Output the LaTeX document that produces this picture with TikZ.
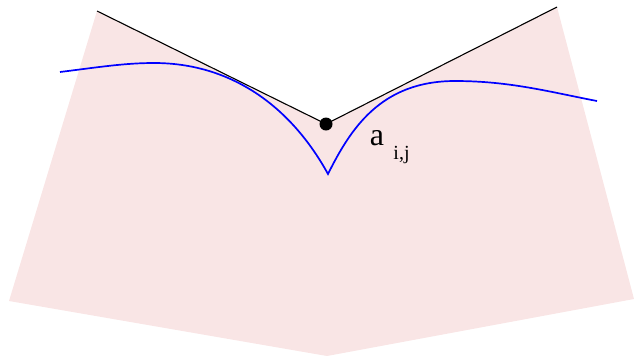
\documentclass[tikz,border=0pt]{standalone}
\usepackage{fontspec}
\setmainfont{Liberation Serif}
\definecolor{pinkfill}{RGB}{249,229,229}
\tikzset{
  region/.style={fill=pinkfill, draw=none},
  edgeline/.style={black, line width=1.1pt},
  curveline/.style={blue, line width=1.7pt, line join=miter},
  vertexdot/.style={circle, fill=black, inner sep=0pt, minimum size=13pt},
}
\begin{document}
\begin{tikzpicture}[x=1pt,y=-1pt]
\useasboundingbox (0,0) rectangle (634,357);
\fill[region] (97,11) -- (326,124) -- (557,7) -- (634,299) -- (327,356) -- (9,301) -- cycle;
\node[vertexdot] (v) at (326,124) {};
\coordinate (L) at (97,11);
\coordinate (R) at (557,7);
\coordinate (C) at (328,174);
\draw[edgeline] (L) -- (v.center);
\draw[edgeline] (v.center) -- (R);
\draw[curveline] (60,72) .. controls (100,67) and (125,63) .. (154,63)
  .. controls (230,63) and (290,105) .. (C)
  .. controls (350,130) and (380,81) .. (455,81)
  .. controls (510,81) and (550,92) .. (597,101);
\node[font=\fontsize{32}{32}\selectfont, anchor=base, inner sep=0pt] (a) at (377,145.5) {a};
\node[font=\fontsize{20}{20}\selectfont, anchor=base, inner sep=0pt] (ij) at (401.5,159.5) {i,j};
\end{tikzpicture}
\end{document}
